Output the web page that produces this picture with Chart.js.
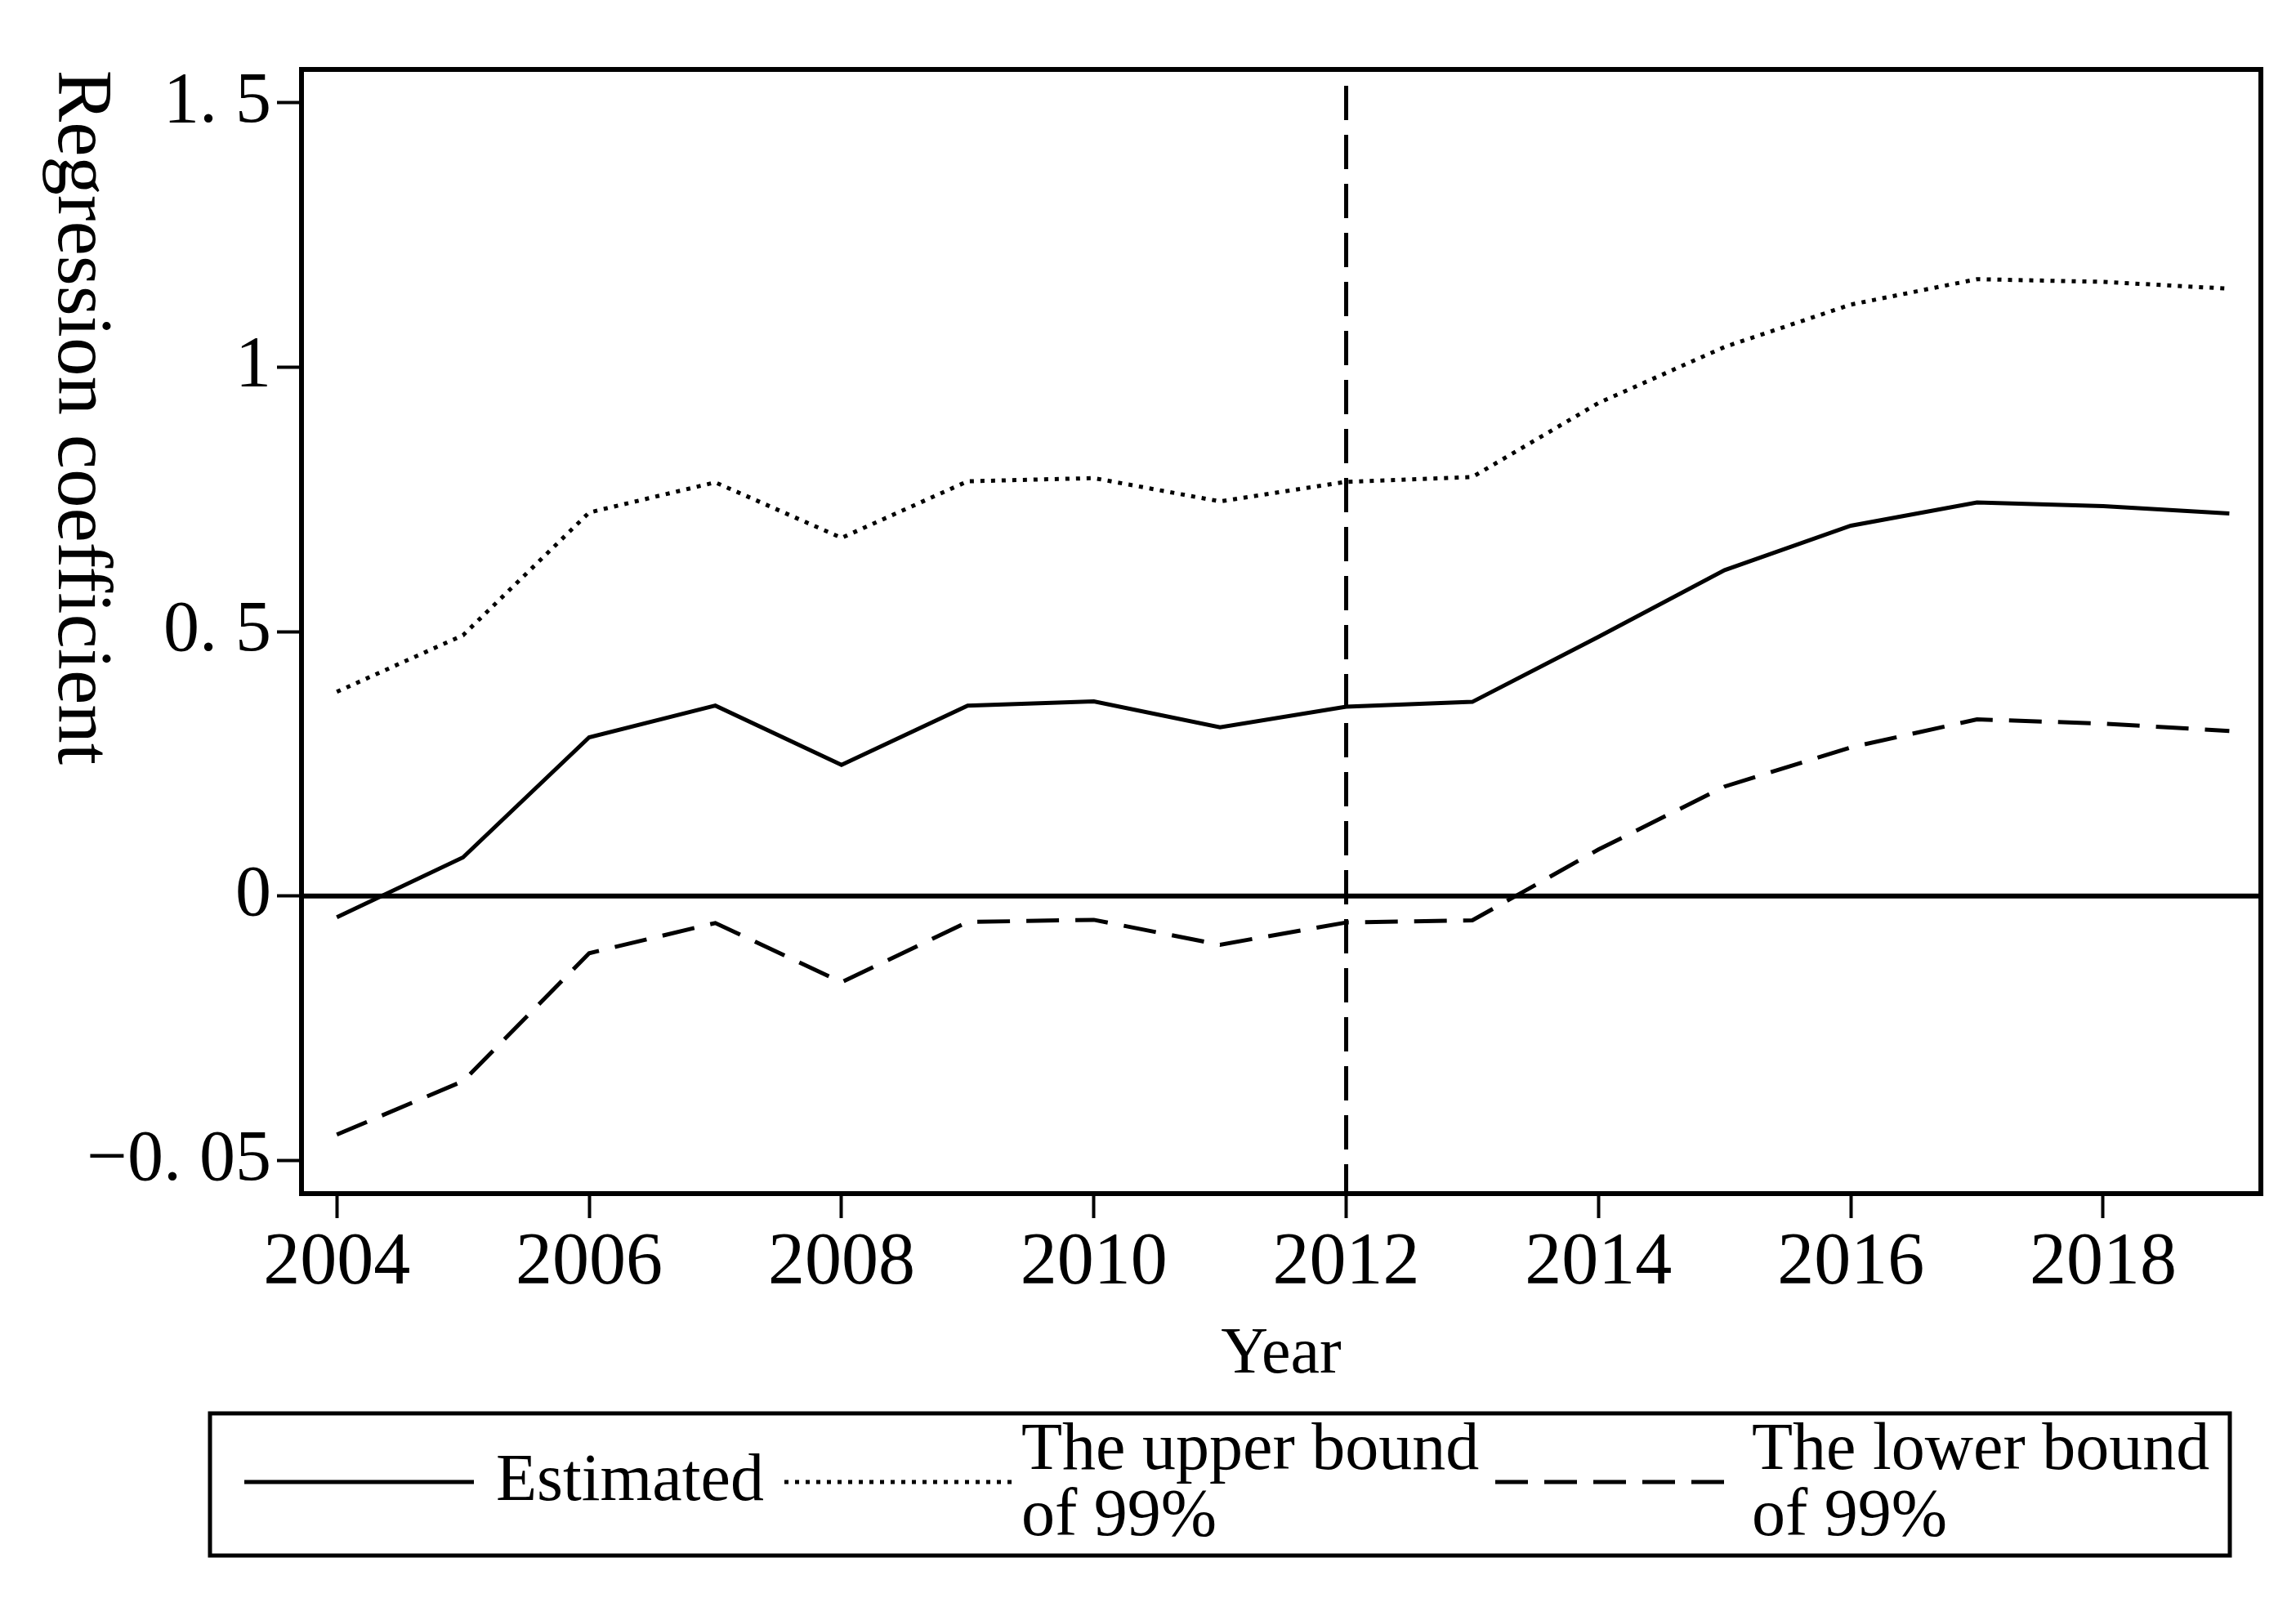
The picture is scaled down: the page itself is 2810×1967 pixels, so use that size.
<!DOCTYPE html>
<html>
<head>
<meta charset="utf-8">
<title>Regression coefficient by year</title>
<script src="https://cdn.jsdelivr.net/npm/chart.js@4.4.1/dist/chart.umd.min.js"></script>
<style>
    html, body { margin: 0; padding: 0; background: #fff; }
    canvas { display: block; }
</style>
</head>
<body>
<canvas id="chart" width="2810" height="1967"></canvas>
<script>
// values
const years = [2004, 2005, 2006, 2007, 2008, 2009, 2010, 2011, 2012, 2013, 2014, 2015, 2016, 2017, 2018, 2019]
const estimated = [-0.04, 0.073, 0.30, 0.36, 0.248, 0.36, 0.368, 0.319, 0.358, 0.367, 0.49, 0.616, 0.70, 0.744, 0.737, 0.723]
const upperBound = [0.386, 0.493, 0.725, 0.782, 0.677, 0.784, 0.79, 0.746, 0.783, 0.792, 0.932, 1.038, 1.118, 1.166, 1.161, 1.148]
const lowerBound = [-0.451, -0.35, -0.108, -0.051, -0.163, -0.049, -0.045, -0.092, -0.05, -0.046, 0.088, 0.207, 0.281, 0.334, 0.326, 0.312]

const xTickValues = [2004, 2006, 2008, 2010, 2012, 2014, 2016, 2018]
const yTickValues = [-0.5, 0, 0.5, 1, 1.5]
const yTickLabels = ['\u22120. 05', '0', '0. 5', '1', '1. 5'] // as printed in the original
const legendLabels = [['Estimated'], ['The upper bound', 'of 99%'], ['The lower bound', 'of 99%']]
const policyYear = 2012
const zeroLevel = 0

const xMin = 2003.72, xMax = 2019.25
const yMin = -0.5625, yMax = 1.5625
const serif = '"Liberation Serif", "Times New Roman", serif'

function toPoints(vals) {
    return years.map((y, i) => ({x: y, y: vals[i]}))
}

// frame around the plot area
const framePlugin = {
    id: 'frame',
    afterDatasetsDraw(chart) {
        let a = chart.chartArea
        let ctx = chart.ctx
        ctx.save()
        ctx.strokeStyle = '#000'
        ctx.lineWidth = 6
        ctx.strokeRect(a.left, a.top, a.right - a.left, a.bottom - a.top)
        ctx.restore()
    }
}

// y title reads top to bottom in the original, so it is drawn here
const yTitlePlugin = {
    id: 'yTitle',
    afterDraw(chart) {
        let ctx = chart.ctx
        ctx.save()
        ctx.translate(72, 511)
        ctx.rotate(Math.PI / 2)
        ctx.font = '95px ' + serif
        ctx.fillStyle = '#000'
        ctx.textAlign = 'center'
        ctx.textBaseline = 'alphabetic'
        ctx.fillText('Regression coefficient', 0, 0)
        ctx.restore()
    }
}

// boxed legend with two-line labels
const legendPlugin = {
    id: 'boxLegend',
    afterDraw(chart) {
        let ctx = chart.ctx
        let box = {left: 257, top: 1730, right: 2729, bottom: 1904}
        let slots = [
            {x1: 299, x2: 580, textX: 607, baselines: [1836]},
            {x1: 960, x2: 1246, textX: 1250, baselines: [1798, 1879]},
            {x1: 1830, x2: 2110, textX: 2144, baselines: [1798, 1879]}
        ]
        ctx.save()
        ctx.strokeStyle = '#000'
        ctx.lineWidth = 5
        ctx.strokeRect(box.left, box.top, box.right - box.left, box.bottom - box.top)
        ctx.font = '82px ' + serif
        ctx.fillStyle = '#000'
        ctx.textAlign = 'left'
        ctx.textBaseline = 'alphabetic'
        slots.forEach((s, i) => {
            let ds = chart.data.datasets[i]
            ctx.beginPath()
            ctx.setLineDash(ds.borderDash || [])
            ctx.lineWidth = ds.borderWidth
            ctx.moveTo(s.x1, 1814)
            ctx.lineTo(s.x2, 1814)
            ctx.stroke()
            ctx.setLineDash([])
            legendLabels[i].forEach((line, j) => {
                ctx.fillText(line, s.textX, s.baselines[j])
            })
        })
        ctx.restore()
    }
}

let ctx = document.getElementById('chart')
let chart = new Chart(ctx, {
    type: 'line',
    data: {
        datasets: [
            {
                label: legendLabels[0].join(' '),
                data: toPoints(estimated),
                borderColor: '#000',
                borderWidth: 5,
                pointRadius: 0,
                tension: 0
            },
            {
                label: legendLabels[1].join(' '),
                data: toPoints(upperBound),
                borderColor: '#000',
                borderWidth: 5,
                borderDash: [5, 8],
                pointRadius: 0,
                tension: 0
            },
            {
                label: legendLabels[2].join(' '),
                data: toPoints(lowerBound),
                borderColor: '#000',
                borderWidth: 5,
                borderDash: [40, 20],
                pointRadius: 0,
                tension: 0
            },
            {
                label: 'policy year',
                data: [{x: policyYear, y: yMax}, {x: policyYear, y: yMin}],
                borderColor: '#000',
                borderWidth: 5,
                borderDash: [42, 18],
                borderDashOffset: 40,
                pointRadius: 0
            },
            {
                label: 'zero',
                data: [{x: xMin, y: zeroLevel}, {x: xMax, y: zeroLevel}],
                borderColor: '#000',
                borderWidth: 6,
                pointRadius: 0
            }
        ]
    },
    options: {
        responsive: false,
        devicePixelRatio: 1,
        animation: false,
        layout: {
            autoPadding: false,
            padding: {left: 0, top: 85, right: 43, bottom: 0}
        },
        plugins: {
            legend: {display: false},
            tooltip: {enabled: false}
        },
        scales: {
            x: {
                type: 'linear',
                min: xMin,
                max: xMax,
                afterBuildTicks: (scale) => { scale.ticks = xTickValues.map(v => ({value: v})) },
                afterFit: (scale) => { scale.height = 506 },
                grid: {drawOnChartArea: false, drawTicks: true, tickLength: 30, tickWidth: 4, tickColor: '#000'},
                border: {display: false},
                ticks: {
                    autoSkip: false,
                    maxRotation: 0,
                    padding: 2,
                    color: '#000',
                    font: {family: serif, size: 90},
                    callback: (v) => String(v)
                },
                title: {
                    display: true,
                    text: 'Year',
                    color: '#000',
                    font: {family: serif, size: 80},
                    padding: {top: 0, bottom: 260}
                }
            },
            y: {
                type: 'linear',
                min: yMin,
                max: yMax,
                afterBuildTicks: (scale) => { scale.ticks = yTickValues.map(v => ({value: v})) },
                afterFit: (scale) => { scale.width = 369 },
                grid: {drawOnChartArea: false, drawTicks: true, tickLength: 30, tickWidth: 4, tickColor: '#000'},
                border: {display: false},
                ticks: {
                    autoSkip: false,
                    padding: 7,
                    color: '#000',
                    font: {family: serif, size: 88},
                    callback: (v) => yTickLabels[yTickValues.indexOf(v)]
                }
            }
        }
    },
    plugins: [framePlugin, yTitlePlugin, legendPlugin]
})
</script>
</body>
</html>
